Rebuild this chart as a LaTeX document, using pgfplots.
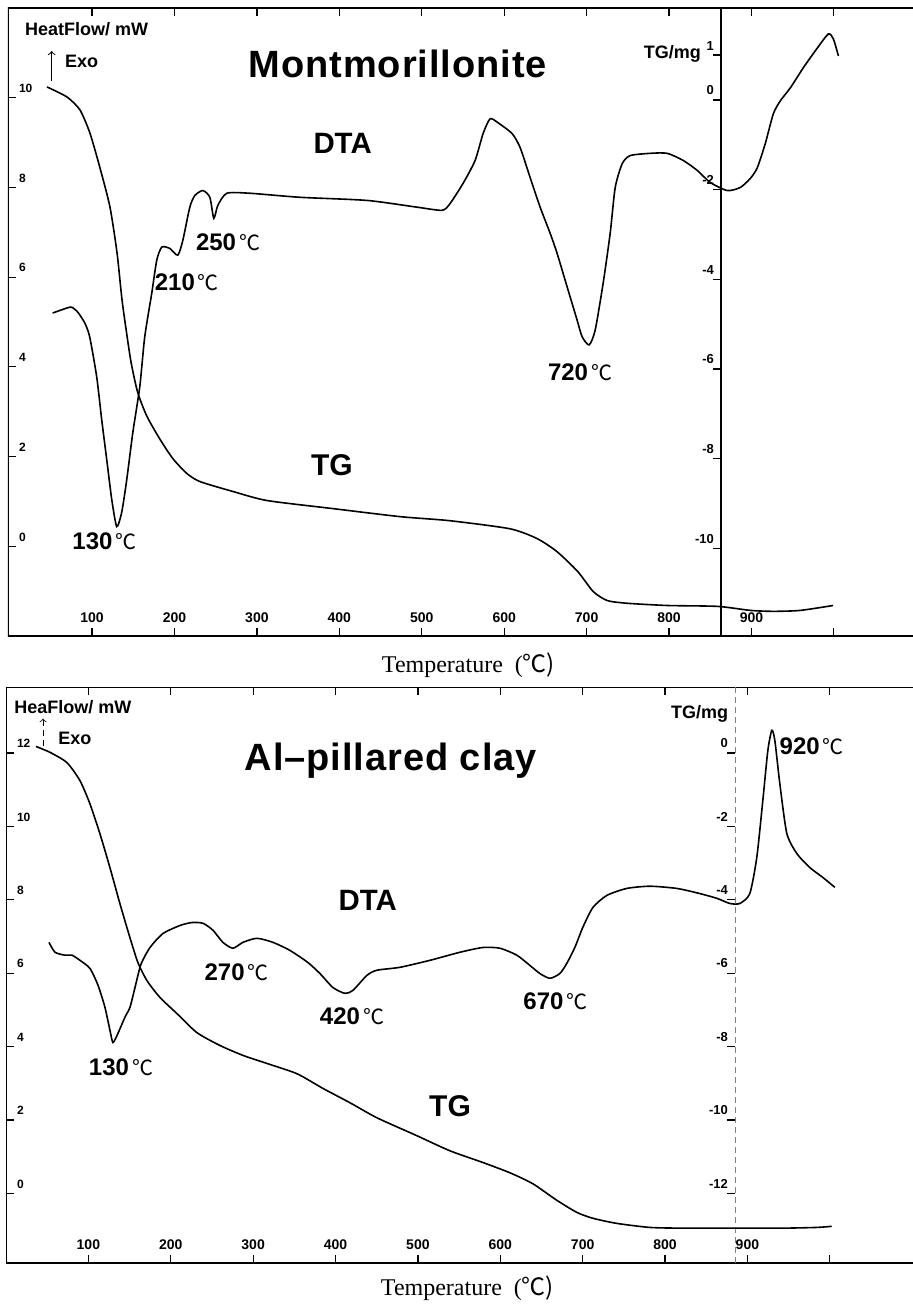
\documentclass[border=0pt]{standalone}
\usepackage{pgfplots}
\pgfplotsset{compat=1.18}
\usepackage{fontspec}
\setmainfont{Liberation Serif}
\newfontfamily\hv{Liberation Sans}
\newfontfamily\hvls[LetterSpace=2.5]{Liberation Sans}
\newfontfamily\cjk{Noto Sans CJK SC}
\newcommand{\tlab}[1]{{\hv\bfseries\fontsize{12}{12}\selectfont #1}\hspace{1.5pt}{\cjk\fontsize{10.5}{10.5}\selectfont ℃}}
\newcommand{\bsans}[1]{\hv\bfseries\fontsize{#1}{#1}\selectfont}
\pgfplotsset{
  dtaaxis/.style={scale only axis, axis line style={draw=none},
    tick align=inside, major tick length=4pt,
    every tick/.style={black, line width=0.6pt},
    xtick={100,200,...,1000}, xticklabels={100,200,300,400,500,600,700,800,900,{}},
    ytick pos=left,
    /pgf/number format/assume math mode=true,
    xticklabel style={font=\bsans{7}, anchor=south, yshift=3pt},
    yticklabel style={font=\bsans{6}, anchor=south west, xshift=2pt, yshift=-1pt},
  },
  tgaxis/.style={scale only axis, axis x line=none, axis y line*=left, clip=false,
    tick align=outside, major tick length=4pt,
    every tick/.style={black, line width=0.6pt},
    xtick=\empty,
    /pgf/number format/assume math mode=true,
    yticklabel style={font=\bsans{6.5}, anchor=south east, xshift=4pt, yshift=-1pt},
  },
  curve/.style={black, line width=0.8pt, smooth, tension=0.4, no markers},
}
\begin{document}
\begin{tikzpicture}
\useasboundingbox (0,0) rectangle (456.5pt,-652pt);
% ---------------- top panel ----------------
\begin{axis}[dtaaxis, name=top, at={(4pt,-4pt)}, anchor=north west,
  width=452.5pt, height=314pt, xmin=-2, xmax=1096, ymin=-2, ymax=12,
  ytick={0,2,4,6,8,10}]
\addplot[curve] coordinates {
(52.2,5.20)(69.2,5.31)(75.3,5.33)(82.6,5.22)(91.1,4.98)(97.1,4.67)(105.6,3.78)
(111.7,2.82)(117.8,1.93)(123.9,1.04)(129.9,0.44)(136.0,0.76)(142.1,1.49)(149.4,2.53)
(157.9,3.56)(163.9,4.67)(172.4,5.64)(178.5,6.38)(184.6,6.67)(194.3,6.64)(204.0,6.49)
(210.1,6.82)(218.6,7.56)(224.7,7.82)(234.4,7.93)(242.9,7.78)(247.7,7.31)(252.6,7.60)
(263.5,7.87)(291.4,7.87)(352.2,7.78)(433.5,7.71)(494.2,7.56)(524.6,7.49)(534.3,7.64)
(550.1,8.09)(564.7,8.60)(574.4,9.20)(582.9,9.53)(592.6,9.44)(609.6,9.20)(619.3,8.89)
(631.5,8.22)(643.6,7.56)(655.7,6.98)(664.2,6.53)(676.4,5.78)(688.5,5.04)(694.6,4.67)
(703.1,4.49)(710.4,4.82)(720.1,5.87)(728.6,6.98)(734.7,8.00)(743.2,8.53)(752.9,8.71)
(777.2,8.76)(797.8,8.76)(817.3,8.60)(834.2,8.38)(850.0,8.11)(870.7,7.93)(886.5,8.00)
(898.6,8.20)(907.1,8.44)(916.8,8.98)(926.5,9.64)(935.0,9.93)(947.2,10.22)(963.0,10.67)
(980.0,11.11)(993.3,11.42)(999.4,11.31)(1005.5,10.93)};
\draw[line width=0.7pt] (rel axis cs:1,1) -- (rel axis cs:0,1) -- (rel axis cs:0,0) -- (rel axis cs:1,0);
\draw[->, line width=0.5pt] (axis cs:51,10.38) -- (axis cs:51,11.04);
\node[font=\bsans{9}] at (axis cs:93.5,11.53) {HeatFlow/ mW};
\node[font=\bsans{9}] at (axis cs:87.4,10.82) {Exo};
\node[font=\hvls\bfseries\fontsize{19}{19}\selectfont, anchor=base] at (axis cs:471,10.44) {Montmorillonite};
\node[font=\bsans{14.7}] at (axis cs:404,8.98) {DTA};
\node[font=\bsans{15}] at (axis cs:391,1.8) {TG};
\node[font=\bsans{9}] at (axis cs:804,10.98) {TG/mg};
\node at (axis cs:265,6.78) {\tlab{250}};
\node at (axis cs:215,5.89) {\tlab{210}};
\node at (axis cs:115,0.11) {\tlab{130}};
\node at (axis cs:692,3.89) {\tlab{720}};
\end{axis}
\begin{axis}[tgaxis, at={(360.5pt,-4pt)}, anchor=north west,
  width=96pt, height=314pt, xmin=863, xmax=1096, ymin=-11.95, ymax=2.05,
  ytick={-10,-8,-6,-4,-2,0,1}, y axis line style={line width=0.6pt}]
\addplot[curve] coordinates {
(45,0.29)(69,0.07)(85,-0.22)(97,-0.73)(109,-1.49)(121.4,-2.38)(130,-3.40)(136,-4.44)
(141,-5.11)(147,-5.84)(155,-6.51)(166,-7.04)(182,-7.56)(198,-8.00)(215,-8.33)(231,-8.51)
(271,-8.73)(312,-8.93)(392,-9.11)(474,-9.29)(534,-9.38)(607,-9.56)(640,-9.78)(664,-10.07)
(689,-10.51)(708,-10.96)(725,-11.16)(749,-11.22)(798,-11.27)(859,-11.29)(899,-11.38)
(927,-11.40)(959,-11.38)(999,-11.27)};
\end{axis}
\node at ([xshift=4pt, yshift=-14.5pt]top.south) {\fontsize{12}{12}\selectfont Temperature\ \ (\cjk ℃)};
% ---------------- bottom panel ----------------
\begin{axis}[dtaaxis, name=bot, at={(3pt,-343.5pt)}, anchor=north west,
  width=453.5pt, height=288pt, xmin=0, xmax=1101, ymin=-1.9, ymax=13.8,
  ytick={0,2,4,6,8,10,12}]
\addplot[curve] coordinates {
(52.2,6.84)(59.5,6.57)(71.6,6.49)(80.1,6.49)(89.8,6.35)(101.9,6.13)(111.7,5.67)
(120.1,5.07)(126.2,4.44)(129.9,4.11)(135.9,4.36)(144.4,4.80)(150.5,5.07)(156.6,5.61)
(163.8,6.24)(174.8,6.70)(190.5,7.08)(211.2,7.30)(225.7,7.38)(239.1,7.36)(251.2,7.17)
(263.3,6.84)(275.5,6.68)(287.6,6.84)(304.6,6.95)(324.0,6.84)(344.7,6.62)(366.5,6.29)
(381.1,5.99)(396.8,5.61)(411.4,5.45)(421.1,5.53)(438.1,5.94)(450.2,6.08)(478.2,6.16)
(514.6,6.35)(551.0,6.57)(578.9,6.70)(599.5,6.68)(620.1,6.49)(636.0,6.21)(648.1,5.99)
(660.2,5.86)(672.3,5.99)(680.8,6.27)(690.5,6.70)(700.2,7.25)(712.4,7.79)(729.4,8.12)
(753.6,8.31)(781.6,8.37)(814.3,8.31)(842.2,8.17)(862.9,8.04)(878.6,7.90)(890.8,7.90)
(902.9,8.17)(911.4,9.16)(918.7,10.71)(924.8,12.07)(929.6,12.62)(933.3,12.34)(939.3,11.17)
(947.8,9.81)(960.0,9.26)(975.7,8.88)(991.5,8.61)(1006.1,8.34)};
\draw[line width=0.7pt] (rel axis cs:1,1) -- (rel axis cs:0,1) -- (rel axis cs:0,0) -- (rel axis cs:1,0);
\draw[->, densely dashed, line width=0.4pt] (axis cs:45,12.2) -- (axis cs:45,12.94);
\node[font=\bsans{9}] at (axis cs:81.3,13.24) {HeaFlow/ mW};
\node[font=\bsans{9}] at (axis cs:83.7,12.40) {Exo};
\node[font=\hvls\bfseries\fontsize{19}{19}\selectfont, anchor=base] at (axis cs:467,11.53) {Al–pillared clay};
\node[font=\bsans{14.7}] at (axis cs:439,7.98) {DTA};
\node[font=\bsans{15}] at (axis cs:539,2.37) {TG};
\node[font=\bsans{9}] at (axis cs:842,13.08) {TG/mg};
\node at (axis cs:280,6.02) {\tlab{270}};
\node at (axis cs:420,4.82) {\tlab{420}};
\node at (axis cs:139.6,3.43) {\tlab{130}};
\node at (axis cs:667,5.23) {\tlab{670}};
\node at (axis cs:978,12.18) {\tlab{920}};
\end{axis}
\begin{axis}[tgaxis, at={(367.5pt,-343.5pt)}, anchor=north west,
  width=88.97pt, height=288pt, xmin=885, xmax=1101, ymin=-13.9, ymax=1.8,
  ytick={-12,-10,-8,-6,-4,-2,0}, y axis line style={line width=0.4pt, densely dashed, gray}]
\addplot[curve] coordinates {
(36.4,0.18)(53.4,0.02)(74.0,-0.26)(89.8,-0.75)(101.9,-1.38)(114.1,-2.20)(126.2,-3.12)
(138.3,-4.10)(150.5,-5.03)(160.2,-5.71)(171.1,-6.20)(186.9,-6.66)(207.5,-7.10)(231.8,-7.62)
(259.7,-7.97)(287.6,-8.24)(316.7,-8.46)(353.2,-8.74)(384.7,-9.14)(417.5,-9.53)(450.2,-9.94)
(498.8,-10.43)(538.8,-10.84)(578.9,-11.16)(611.7,-11.44)(639.6,-11.74)(668.7,-12.19)
(693.0,-12.52)(712.4,-12.68)(741.5,-12.82)(781.6,-12.93)(821.6,-12.95)(882.3,-12.95)
(943.0,-12.95)(984.2,-12.93)(1002.4,-12.90)};
\end{axis}
\node at ([xshift=4pt, yshift=-12.5pt]bot.south) {\fontsize{12}{12}\selectfont Temperature\ \ (\cjk ℃)};
\end{tikzpicture}
\end{document}
